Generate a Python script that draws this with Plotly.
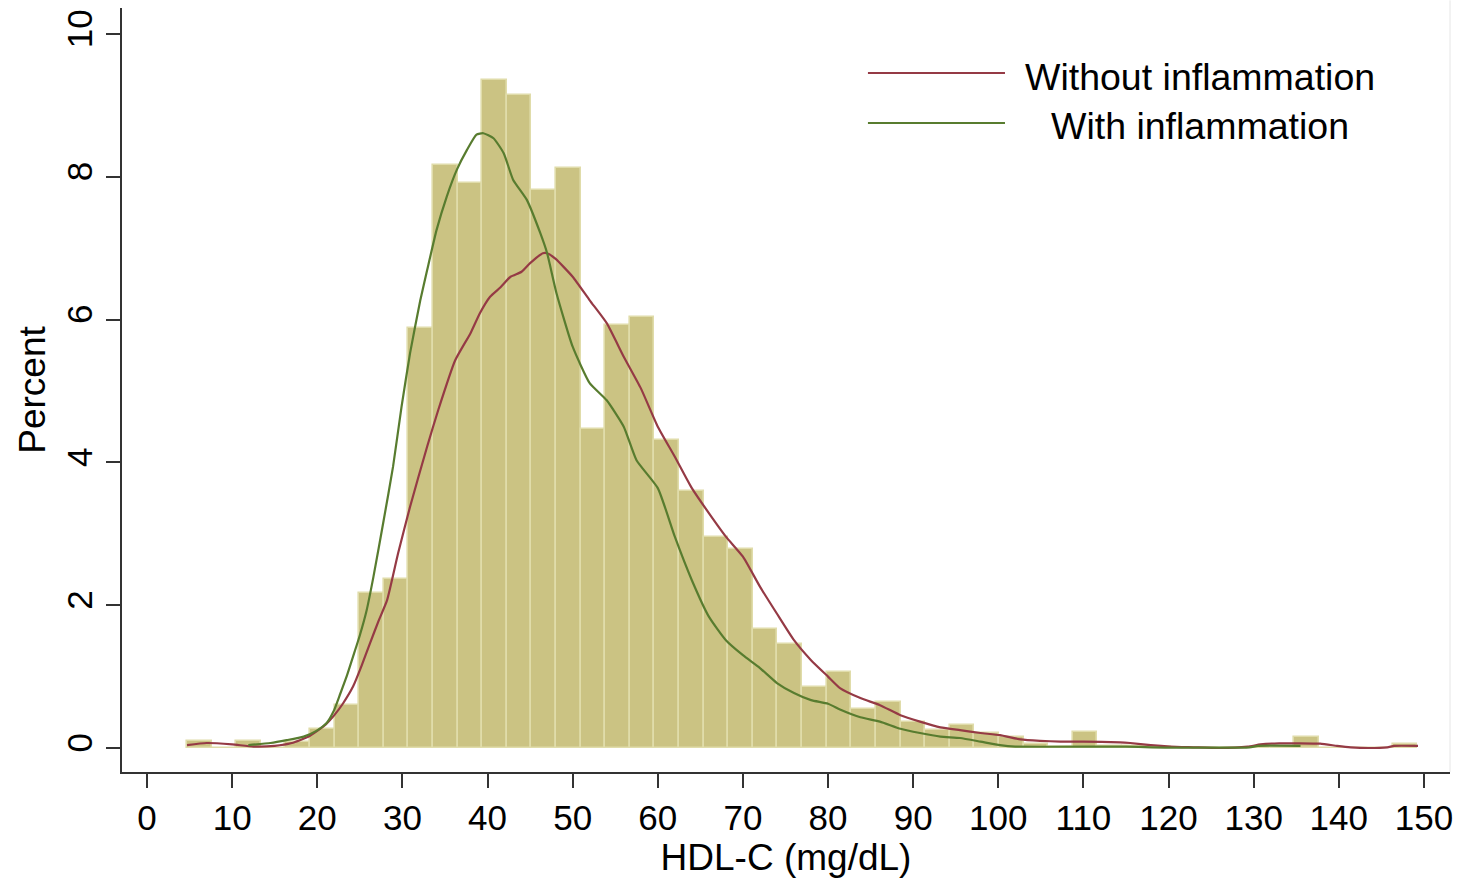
import plotly.graph_objects as go

# Histogram of HDL-C: 50 bins starting at 4.7 mg/dL, 2.89 mg/dL wide
bin_start = 4.7
bin_width = 2.89
bin_percent = [
    0.10, 0.00, 0.10, 0.00, 0.08, 0.27, 0.60, 2.17, 2.37, 5.88,
    8.17, 7.91, 9.36, 9.15, 7.81, 8.13, 4.47, 5.92, 6.03, 4.31,
    3.60, 2.96, 2.79, 1.67, 1.45, 0.85, 1.07, 0.54, 0.65, 0.37,
    0.25, 0.32, 0.21, 0.16, 0.05, 0.02, 0.23, 0.03, 0.03, 0.02,
    0.00, 0.00, 0.00, 0.00, 0.00, 0.16, 0.00, 0.00, 0.00, 0.06,
]

# Kernel density curves (percent scale)
without_x = [4.7, 7, 10, 12.5, 15, 17, 19, 20, 21, 22, 23, 24.2, 25.2, 26.2, 27.2,
             28.2, 29.5, 30.9, 32.9, 34.2, 36.2, 38, 39.1, 40.3, 41.5, 42.7, 44,
             45, 46.5, 47, 48, 50, 52, 54, 56, 58, 60, 62, 64, 66, 68, 70, 72, 74,
             76, 78, 80, 81.4, 83.8, 86.1, 88.5, 90.8, 93.2, 95.5, 97.9, 100.2,
             102.6, 104.9, 107.3, 110, 114.3, 115.5, 117.9, 120.2, 122.9, 126,
             129.3, 130.8, 133, 137.8, 139.8, 141.4, 143.5, 145.7, 146.5, 149.3]
without_y = [0.04, 0.07, 0.05, 0.02, 0.03, 0.07, 0.16, 0.24, 0.33, 0.46, 0.62, 0.86,
             1.15, 1.47, 1.78, 2.07, 2.73, 3.38, 4.22, 4.73, 5.43, 5.81, 6.09, 6.32,
             6.45, 6.60, 6.67, 6.79, 6.93, 6.93, 6.85, 6.60, 6.27, 5.95, 5.48, 5.04,
             4.50, 4.08, 3.64, 3.29, 2.96, 2.68, 2.26, 1.88, 1.51, 1.23, 1.00, 0.84,
             0.70, 0.60, 0.46, 0.37, 0.29, 0.25, 0.21, 0.18, 0.12, 0.10, 0.09, 0.09,
             0.08, 0.07, 0.04, 0.02, 0.01, 0.00, 0.02, 0.05, 0.065, 0.06, 0.03, 0.01,
             0.00, 0.01, 0.03, 0.03]

with_x = [11.9, 14.5, 16.4, 18.4, 19.9, 21.1, 21.9, 22.7, 23.5, 24.2, 25.0, 25.8,
          26.6, 27.8, 28.9, 29.9, 30.9, 32.1, 32.9, 34.0, 35.2, 36.4, 37.6, 38.7,
          39.5, 40.7, 41.9, 43.0, 44.6, 46.2, 47, 48.1, 50, 52, 54, 56, 57.5, 60,
          62, 64, 66, 68, 70, 72, 74, 76, 78, 80, 81.4, 83.8, 86.1, 88.5, 90.8,
          93.2, 95.5, 97.9, 100.2, 102, 115, 118, 129.5, 130.5, 135.5]
with_y = [0.04, 0.07, 0.11, 0.16, 0.24, 0.35, 0.51, 0.76, 1.02, 1.28, 1.58, 1.93,
          2.40, 3.19, 3.94, 4.78, 5.53, 6.27, 6.69, 7.25, 7.72, 8.10, 8.38, 8.59,
          8.61, 8.54, 8.33, 7.96, 7.68, 7.21, 6.93, 6.37, 5.62, 5.11, 4.87, 4.50,
          4.03, 3.64, 2.96, 2.35, 1.84, 1.51, 1.30, 1.12, 0.91, 0.77, 0.67, 0.62,
          0.54, 0.43, 0.37, 0.27, 0.21, 0.16, 0.14, 0.09, 0.04, 0.02, 0.02, 0.01,
          0.01, 0.03, 0.03]

x_ticks = list(range(0, 151, 10))
y_ticks = [0, 2, 4, 6, 8, 10]
series_names = ["Without inflammation", "With inflammation"]

RED = "#953a45"
GREEN = "#587c2f"
FONT = "Liberation Sans, Arial, sans-serif"

bin_centers = [bin_start + (i + 0.5) * bin_width for i in range(len(bin_percent))]

fig = go.Figure()
fig.add_trace(go.Bar(
    x=bin_centers, y=bin_percent, width=bin_width,
    marker=dict(color="#cbc383", line=dict(color="#e0dcaa", width=1.6)),
    showlegend=False, hoverinfo="x+y",
))
fig.add_trace(go.Scatter(
    x=without_x, y=without_y, mode="lines", name=series_names[0],
    line=dict(color=RED, width=2.2, shape="spline", smoothing=0.5), showlegend=False,
))
fig.add_trace(go.Scatter(
    x=with_x, y=with_y, mode="lines", name=series_names[1],
    line=dict(color=GREEN, width=2.2, shape="spline", smoothing=0.5), showlegend=False,
))

# Legend drawn as line samples with centred labels
legend_rows = [(series_names[0], RED, 0.9149, 0.9097),
               (series_names[1], GREEN, 0.8495, 0.8455)]
for name, color, y_line, y_text in legend_rows:
    fig.add_shape(type="line", xref="paper", yref="paper",
                  x0=0.5617, x1=0.6649, y0=y_line, y1=y_line,
                  line=dict(color=color, width=2.2))
    fig.add_annotation(xref="paper", yref="paper", x=0.8117, y=y_text,
                       text=name, showarrow=False, xanchor="center", yanchor="middle",
                       font=dict(family=FONT, size=37.5, color="#000"))

# faint outline on the right of the plot region
fig.add_shape(type="line", xref="paper", yref="paper", x0=1, x1=1, y0=0, y1=1.01,
              line=dict(color="#e6e6e6", width=1))

axis_common = dict(showgrid=False, zeroline=False, showline=True,
                   linecolor="#333", linewidth=1.5, ticks="outside",
                   ticklen=14, tickwidth=1.5, tickcolor="#333",
                   tickfont=dict(family=FONT, size=35, color="#000"))

fig.update_layout(
    width=1464, height=880,
    margin=dict(l=122, r=14, t=8, b=108),
    paper_bgcolor="white", plot_bgcolor="white",
    bargap=0,
    xaxis=dict(range=[-2.94, 153.06], tickvals=x_ticks,
               title=dict(text="HDL-C (mg/dL)", font=dict(family=FONT, size=37, color="#000"),
                          standoff=4),
               **axis_common),
    yaxis=dict(range=[-0.336, 10.364], tickvals=y_ticks, tickangle=-90,
               title=dict(text="Percent", font=dict(family=FONT, size=37, color="#000"),
                          standoff=3),
               **axis_common),
)

fig.write_html("out.html")
